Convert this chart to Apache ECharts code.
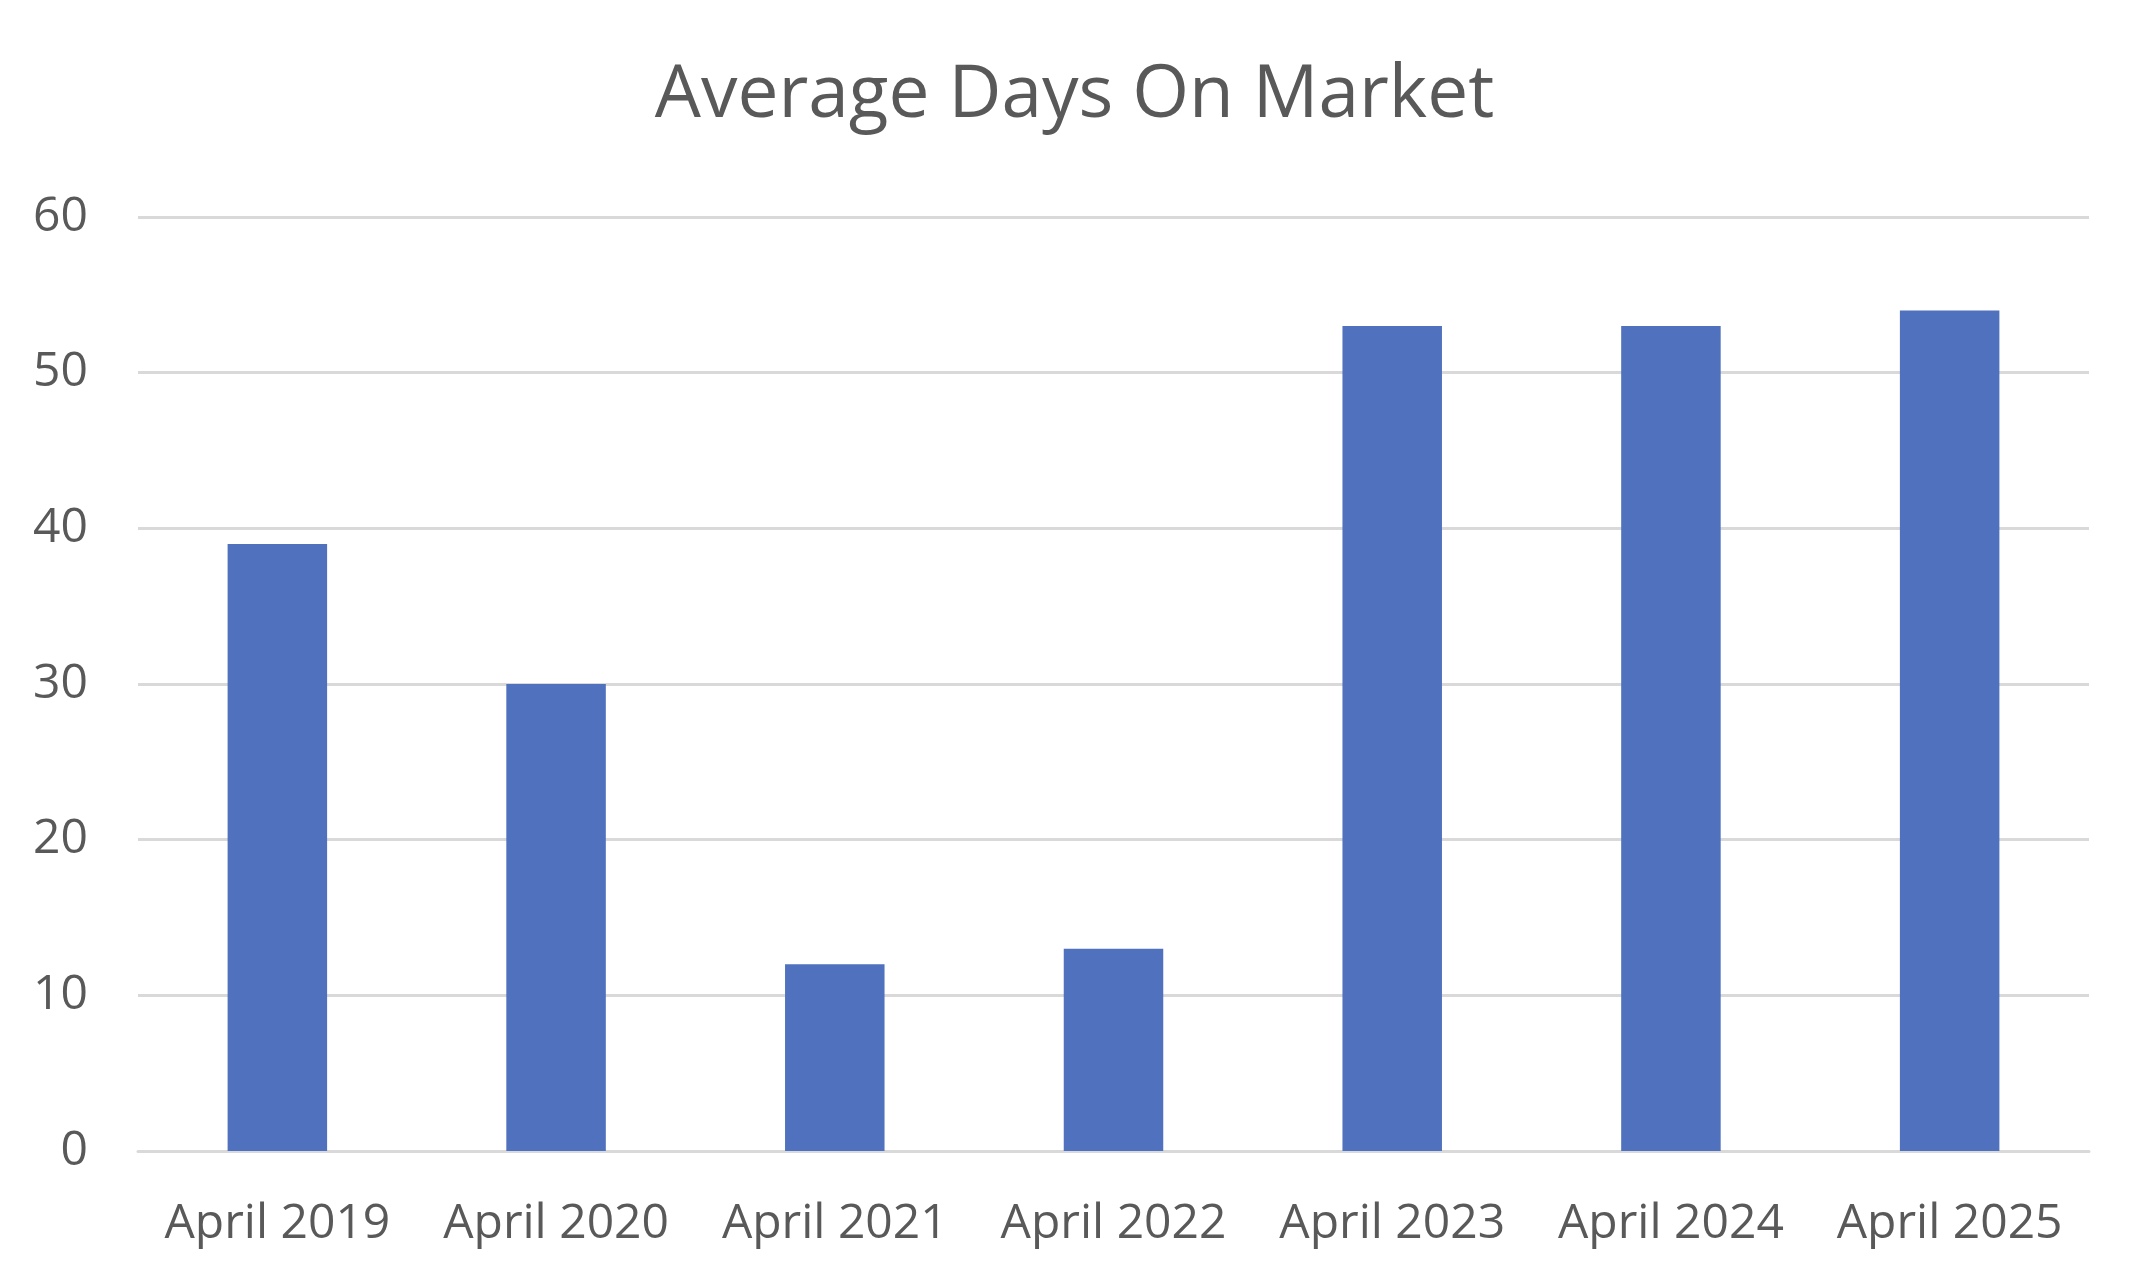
<!DOCTYPE html>
<html><head><meta charset="utf-8">
<script src="https://cdn.jsdelivr.net/npm/echarts@6/dist/echarts.min.js"></script>
<style>html,body{margin:0;padding:0;background:#fff}#c{width:2149px;height:1284px}</style>
</head><body><div id="c"></div>
<script>
const categories = ['April 2019','April 2020','April 2021','April 2022','April 2023','April 2024','April 2025'];
const values = [39, 30, 12, 13, 53, 53, 54];
const titleText = 'Average Days On Market';

const chart = echarts.init(document.getElementById('c'));
const font = '"Open Sans", "Noto Sans", sans-serif';
chart.setOption({
  animation: false,
  backgroundColor: '#ffffff',
  title: {
    text: titleText, left: 'center', top: 55,
    textStyle: { fontFamily: font, fontSize: 73, fontWeight: 'normal', color: '#595959' }
  },
  grid: { left: 138, right: 60, top: 217, bottom: 133 },
  xAxis: {
    type: 'category', data: categories,
    axisLine: { show: true, lineStyle: { color: '#D9D9D9', width: 3 } },
    axisTick: { show: false },
    axisLabel: { interval: 0, fontFamily: font, fontSize: 48, color: '#595959', margin: 49 }
  },
  yAxis: {
    type: 'value', min: 0, max: 60, interval: 10,
    axisLine: { show: false }, axisTick: { show: false },
    splitLine: { lineStyle: { color: '#D9D9D9', width: 3 } },
    axisLabel: { fontFamily: font, fontSize: 48, color: '#595959', margin: 50 }
  },
  series: [{
    type: 'bar', data: values, barWidth: '35.7%',
    itemStyle: { color: '#4F71BE' }
  }]
});
</script></body></html>
